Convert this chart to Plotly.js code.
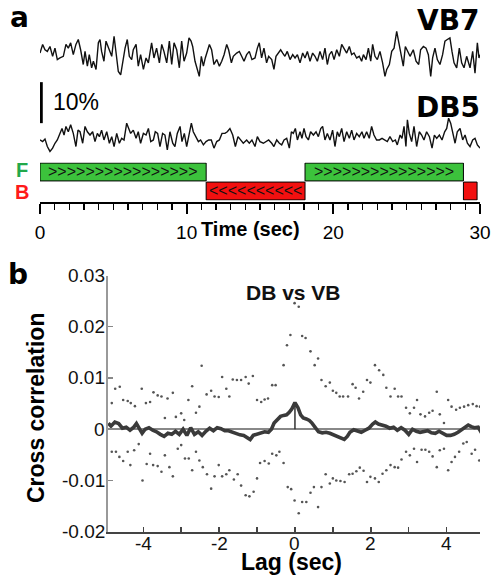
<!DOCTYPE html>
<html><head><meta charset="utf-8">
<script src="https://cdn.plot.ly/plotly-3.0.1.min.js"></script>
<style>html,body{margin:0;padding:0;background:#fff}#chart{width:494px;height:575px}</style>
</head><body><div id="chart"></div>
<script>
// ---------- Panel a: calcium traces (dF/F, %) ----------
const vbTime=[0.00,0.18,0.34,0.50,0.68,0.86,1.02,1.18,1.36,1.59,1.77,1.93,2.09,2.27,2.45,2.61,2.77,2.95,3.07,3.23,3.36,3.52,3.64,3.82,3.98,4.09,4.20,4.36,4.50,4.66,4.89,5.05,5.23,5.34,5.50,5.64,5.80,5.95,6.09,6.25,6.36,6.55,6.70,6.86,7.05,7.23,7.39,7.61,7.77,7.95,8.14,8.30,8.45,8.64,8.82,8.98,9.14,9.32,9.50,9.66,9.82,10.00,10.16,10.30,10.41,10.57,10.73,10.86,11.00,11.14,11.27,11.41,11.55,11.70,11.86,12.05,12.23,12.39,12.55,12.73,12.86,13.05,13.18,13.41,13.59,13.75,13.91,14.09,14.27,14.45,14.66,14.82,14.95,15.11,15.27,15.45,15.59,15.80,15.95,16.09,16.25,16.41,16.55,16.70,16.86,17.05,17.23,17.39,17.55,17.73,17.91,18.07,18.23,18.41,18.59,18.75,18.91,19.09,19.27,19.43,19.59,19.73,19.89,20.05,20.23,20.41,20.57,20.73,20.91,21.09,21.25,21.41,21.59,21.77,21.93,22.05,22.23,22.39,22.55,22.68,22.84,23.00,23.18,23.36,23.52,23.64,23.82,23.98,24.14,24.32,24.45,24.59,24.77,24.91,25.05,25.23,25.45,25.64,25.82,25.95,26.14,26.32,26.48,26.64,26.77,26.93,27.09,27.27,27.45,27.61,27.77,27.95,28.09,28.23,28.41,28.59,28.75,28.91,29.09,29.32,29.50,29.66,29.82,29.93,30.00];
const vbValue=[1.2,3.3,2.0,1.6,2.8,0.4,2.4,-0.4,0.0,0.4,3.3,2.4,3.7,0.8,3.3,4.5,2.0,-1.6,1.6,-2.0,0.8,-2.4,-0.8,-2.8,3.7,4.5,1.6,-0.8,4.1,2.4,0.4,5.3,0.0,-3.3,-4.1,-0.8,2.4,4.5,0.4,-0.4,2.0,3.3,-2.0,0.8,-2.8,0.0,-1.2,3.7,0.0,2.4,-1.2,3.3,1.6,-1.2,4.1,-1.6,3.7,2.0,-2.4,4.1,-0.8,1.2,4.9,4.1,2.8,-0.8,-2.8,-4.5,0.4,-2.0,0.0,1.6,3.3,2.0,-1.6,-0.4,-2.0,-0.8,0.8,3.3,2.0,-1.2,0.4,1.2,1.6,0.4,-0.8,0.8,1.6,-0.4,0.0,2.4,3.7,0.0,2.4,-1.2,0.4,-0.4,-2.8,0.4,1.2,2.0,1.2,0.4,1.6,-0.4,0.8,0.0,0.8,-1.2,1.2,0.0,1.6,-0.8,1.2,0.4,-0.8,1.6,-0.4,2.4,-1.6,0.8,1.6,-0.4,2.0,0.4,3.3,2.4,1.2,2.8,0.8,1.2,0.0,0.4,-0.8,0.8,-0.4,2.4,-0.8,3.3,0.4,-0.4,1.6,-1.2,-4.5,-2.8,-1.6,1.6,2.4,6.5,4.1,1.2,-2.0,2.8,1.6,0.4,2.0,-0.8,-1.6,2.0,2.8,2.4,0.8,-4.5,0.0,2.4,-0.4,-1.6,0.8,4.1,4.5,4.9,1.6,-1.2,-2.4,2.4,-1.2,-2.4,0.4,-2.4,1.6,-3.7,3.7,0.0,0.8];
const dbTime=[0.00,0.18,0.34,0.50,0.68,0.86,1.02,1.18,1.36,1.50,1.64,1.77,1.93,2.09,2.27,2.45,2.59,2.73,2.91,3.07,3.23,3.41,3.59,3.75,3.91,4.05,4.20,4.36,4.55,4.73,4.89,5.05,5.23,5.41,5.57,5.73,5.91,6.05,6.18,6.36,6.55,6.70,6.86,7.05,7.23,7.39,7.55,7.73,7.86,8.02,8.18,8.36,8.52,8.68,8.86,9.05,9.20,9.36,9.55,9.68,9.84,10.00,10.16,10.32,10.45,10.64,10.80,10.95,11.14,11.32,11.50,11.68,11.86,12.05,12.23,12.41,12.61,12.77,12.95,13.14,13.32,13.50,13.68,13.86,14.09,14.27,14.45,14.66,14.82,15.00,15.23,15.41,15.59,15.80,15.95,16.14,16.32,16.48,16.64,16.82,17.00,17.14,17.27,17.41,17.55,17.73,17.86,18.00,18.14,18.30,18.45,18.64,18.82,18.98,19.14,19.27,19.43,19.59,19.77,19.95,20.11,20.27,20.41,20.57,20.73,20.91,21.09,21.25,21.41,21.59,21.77,21.95,22.09,22.27,22.45,22.61,22.77,22.95,23.14,23.32,23.50,23.68,23.86,24.05,24.23,24.36,24.55,24.68,24.82,24.95,25.05,25.18,25.34,25.50,25.68,25.86,26.02,26.18,26.36,26.55,26.73,26.89,27.05,27.23,27.41,27.59,27.73,27.86,28.00,28.14,28.30,28.45,28.64,28.82,28.98,29.14,29.32,29.50,29.66,29.82,30.00];
const dbValue=[0.0,-0.4,0.2,-1.6,-2.8,-2.0,-0.8,0.0,1.6,2.8,1.2,3.3,2.0,3.7,1.6,-1.6,2.4,2.0,-0.8,3.3,2.0,1.2,2.0,-0.4,1.6,0.8,2.4,0.0,2.0,-0.8,0.8,-1.6,1.6,-0.8,0.4,0.0,4.1,2.8,1.6,2.4,0.4,2.0,-0.8,1.6,1.2,2.8,-0.4,0.0,2.0,1.6,-1.6,1.6,1.2,-2.4,2.0,-0.8,-1.6,1.6,3.3,-0.4,1.6,-1.6,1.6,4.1,2.0,0.8,-0.4,0.0,-1.2,-0.4,0.0,0.0,-2.0,-0.4,0.0,1.6,1.6,2.0,2.8,1.2,-1.6,0.8,0.0,-0.8,0.0,-0.8,0.0,-1.6,0.8,-0.4,-0.8,-0.4,0.0,-0.8,-1.6,0.0,-0.8,-1.2,0.0,0.4,-2.0,2.0,1.6,2.8,0.0,2.0,0.4,2.8,0.8,0.0,2.0,1.2,2.0,0.8,2.8,3.3,0.0,1.6,0.0,2.4,-1.6,2.0,0.8,2.8,-0.4,2.0,0.4,2.4,0.0,1.6,0.8,2.0,0.4,2.0,0.4,3.3,1.2,0.0,0.0,0.4,0.0,-0.4,0.8,-0.4,0.0,-1.2,1.2,0.4,3.3,-1.6,4.9,1.6,-0.4,3.3,-1.6,2.0,1.2,0.0,2.0,0.8,-2.0,1.2,0.4,1.2,0.0,2.0,2.8,5.3,4.1,1.6,-0.8,2.0,2.8,0.0,1.2,-0.8,-1.6,0.0,0.4,-1.2,-2.0];
const scaleBarPct=10;

// ---------- Panel a: crawling direction epochs ----------
const phaseDir=['F','B','F','B'];
const phaseStart=[0,11.33,18.07,28.87];
const phaseEnd=[11.33,18.07,28.87,29.8];
const phaseArrows=[16,10,15,0];
const timeTicks=[0,10,20,30];

// ---------- Panel b: cross correlation ----------
const ccLag=[-4.92,-4.85,-4.75,-4.65,-4.55,-4.45,-4.35,-4.25,-4.18,-4.10,-4.03,-3.95,-3.85,-3.75,-3.65,-3.55,-3.45,-3.35,-3.25,-3.15,-3.05,-2.95,-2.85,-2.75,-2.65,-2.55,-2.45,-2.35,-2.25,-2.15,-2.05,-1.95,-1.85,-1.75,-1.65,-1.55,-1.45,-1.35,-1.25,-1.18,-1.10,-1.00,-0.90,-0.80,-0.70,-0.62,-0.55,-0.45,-0.38,-0.30,-0.22,-0.15,-0.08,0.00,0.08,0.15,0.22,0.30,0.38,0.45,0.55,0.62,0.72,0.82,0.92,1.02,1.12,1.22,1.30,1.38,1.45,1.55,1.65,1.75,1.85,1.95,2.05,2.12,2.20,2.30,2.40,2.50,2.60,2.70,2.80,2.90,3.00,3.10,3.20,3.30,3.40,3.50,3.60,3.70,3.80,3.90,4.00,4.10,4.20,4.30,4.40,4.48,4.57,4.65,4.73,4.83,4.92];
const ccVal=[0.0012,0.0006,0.0014,0.0011,0.0002,0.0004,-0.0002,0.0004,0.0011,0.0002,-0.0008,0.0000,0.0003,-0.0002,-0.0005,-0.0010,-0.0014,-0.0008,-0.0010,-0.0004,-0.0010,0.0000,-0.0012,0.0003,-0.0010,-0.0005,-0.0012,-0.0004,0.0002,-0.0003,0.0003,0.0001,-0.0003,-0.0003,-0.0006,-0.0008,-0.0011,-0.0012,-0.0018,-0.0020,-0.0012,-0.0010,-0.0008,-0.0005,-0.0006,0.0000,0.0012,0.0020,0.0025,0.0027,0.0028,0.0033,0.0040,0.0052,0.0042,0.0028,0.0022,0.0020,0.0017,0.0012,0.0002,-0.0005,-0.0007,-0.0006,-0.0008,-0.0011,-0.0014,-0.0018,-0.0020,-0.0014,-0.0006,-0.0001,-0.0003,-0.0006,-0.0002,0.0002,0.0010,0.0014,0.0010,0.0008,0.0006,0.0002,0.0004,-0.0002,0.0003,-0.0002,-0.0010,0.0000,-0.0004,-0.0006,-0.0005,-0.0003,-0.0007,-0.0008,-0.0004,-0.0008,-0.0012,-0.0012,-0.0010,-0.0006,-0.0001,0.0004,0.0008,0.0005,0.0003,0.0004,-0.0007];
const upLag=[-4.83,-4.74,-4.62,-4.53,-4.41,-4.33,-4.22,-4.04,-3.93,-3.82,-3.73,-3.62,-3.52,-3.43,-3.36,-3.22,-3.14,-3.00,-2.92,-2.81,-2.71,-2.61,-2.52,-2.46,-2.33,-2.21,-2.12,-2.01,-1.92,-1.81,-1.73,-1.64,-1.53,-1.42,-1.30,-1.22,-1.11,-1.00,-0.89,-0.80,-0.71,-0.60,-0.51,-0.30,-0.21,-0.12,-0.01,0.10,0.19,0.28,0.41,0.52,0.61,0.70,0.81,0.92,1.00,1.09,1.18,1.27,1.40,1.52,1.60,1.69,1.80,1.90,1.99,2.11,2.22,2.33,2.41,2.52,2.63,2.72,2.81,2.93,3.03,3.14,3.22,3.31,3.43,3.54,3.63,3.74,3.82,3.93,4.04,4.13,4.25,4.35,4.46,4.57,4.69,4.79,4.88];
const upVal=[0.0051,0.0079,0.0083,0.0057,0.0055,0.0051,0.0045,0.0079,0.0051,0.0053,0.0072,0.0066,0.0064,0.0022,0.0060,0.0071,0.0024,0.0031,0.0018,0.0057,0.0084,0.0032,0.0044,0.0124,0.0068,0.0075,0.0064,0.0063,0.0102,0.0079,0.0064,0.0097,0.0096,0.0096,0.0102,0.0089,0.0104,0.0057,0.0053,0.0058,0.0060,0.0086,0.0086,0.0125,0.0164,0.0184,0.0246,0.0239,0.0182,0.0178,0.0152,0.0125,0.0138,0.0096,0.0084,0.0091,0.0075,0.0071,0.0064,0.0064,0.0064,0.0088,0.0081,0.0060,0.0073,0.0096,0.0091,0.0125,0.0115,0.0106,0.0081,0.0064,0.0079,0.0064,0.0064,0.0042,0.0031,0.0042,0.0057,0.0029,0.0025,0.0032,0.0036,0.0073,0.0029,0.0012,0.0057,0.0044,0.0038,0.0042,0.0044,0.0047,0.0049,0.0045,0.0044];
const loLag=[-4.83,-4.72,-4.63,-4.53,-4.41,-4.34,-4.24,-4.12,-4.02,-3.91,-3.82,-3.74,-3.62,-3.52,-3.43,-3.31,-3.22,-3.09,-3.00,-2.90,-2.80,-2.71,-2.61,-2.52,-2.43,-2.32,-2.21,-2.12,-2.01,-1.92,-1.81,-1.73,-1.61,-1.51,-1.42,-1.30,-1.20,-1.09,-1.00,-0.92,-0.80,-0.69,-0.60,-0.49,-0.41,-0.30,-0.19,-0.10,-0.01,0.10,0.19,0.30,0.41,0.50,0.61,0.70,0.81,0.92,1.00,1.09,1.20,1.31,1.43,1.52,1.62,1.71,1.81,1.90,1.99,2.11,2.21,2.31,2.41,2.52,2.63,2.72,2.81,2.93,3.03,3.14,3.22,3.34,3.44,3.54,3.63,3.74,3.82,3.93,4.04,4.13,4.22,4.33,4.44,4.53,4.66,4.75,4.86];
const loVal=[-0.0044,-0.0044,-0.0054,-0.0062,-0.0044,-0.0070,-0.0041,-0.0029,-0.0100,-0.0068,-0.0048,-0.0070,-0.0072,-0.0083,-0.0051,-0.0074,-0.0092,-0.0038,-0.0031,-0.0057,-0.0057,-0.0080,-0.0044,-0.0061,-0.0074,-0.0088,-0.0116,-0.0092,-0.0070,-0.0092,-0.0088,-0.0080,-0.0098,-0.0088,-0.0110,-0.0129,-0.0131,-0.0122,-0.0096,-0.0066,-0.0062,-0.0067,-0.0048,-0.0051,-0.0044,-0.0066,-0.0113,-0.0117,-0.0139,-0.0164,-0.0142,-0.0142,-0.0124,-0.0113,-0.0152,-0.0113,-0.0088,-0.0106,-0.0096,-0.0100,-0.0101,-0.0103,-0.0088,-0.0087,-0.0082,-0.0075,-0.0081,-0.0103,-0.0093,-0.0096,-0.0103,-0.0087,-0.0080,-0.0070,-0.0074,-0.0075,-0.0059,-0.0044,-0.0051,-0.0038,-0.0064,-0.0040,-0.0040,-0.0044,-0.0053,-0.0074,-0.0041,-0.0038,-0.0080,-0.0064,-0.0054,-0.0044,-0.0028,-0.0025,-0.0048,-0.0040,-0.0061];
const ccTicks=[0.03,0.02,0.01,0,-0.01,-0.02];
const ccTickText=['0.03','0.02','0.01','0','-0.01','-0.02'];
const lagTicks=[-4,-2,0,2,4];
const lagTickText=['-4','-2','0','2','4'];

// ---------- figure ----------
const W=494,H=575;
const px=x=>x/W, py=y=>1-y/H;
const FONT='Liberation Sans, Arial, sans-serif';
const HEAVY='DejaVu Sans, Liberation Sans, sans-serif';
const VB_OFF=24.4, DB_OFF=4.4;

const traces=[
 {x:vbTime,y:vbValue.map(v=>v+VB_OFF),xaxis:'x',yaxis:'y',mode:'lines',line:{color:'#111',width:1.4},hoverinfo:'skip'},
 {x:dbTime,y:dbValue.map(v=>v+DB_OFF),xaxis:'x',yaxis:'y',mode:'lines',line:{color:'#111',width:1.4},hoverinfo:'skip'},
 {type:'bar',orientation:'h',xaxis:'x',yaxis:'y2',
  y:phaseDir.map(d=>d==='F'?1:0),
  x:phaseStart.map((s,i)=>phaseEnd[i]-s),base:phaseStart,width:0.94,
  marker:{color:phaseDir.map(d=>d==='F'?'#3cc23c':'#f21010'),line:{color:'#000',width:1}},
  textposition:'none',hoverinfo:'skip'},
 {x:upLag,y:upVal,xaxis:'x2',yaxis:'y3',mode:'markers',marker:{color:'#555',size:2.6},hoverinfo:'skip'},
 {x:loLag,y:loVal,xaxis:'x2',yaxis:'y3',mode:'markers',marker:{color:'#555',size:2.6},hoverinfo:'skip'},
 {x:[0,0],y:[0,ccVal[ccLag.indexOf(0)]],xaxis:'x2',yaxis:'y3',mode:'lines',line:{color:'#333',width:1.5},hoverinfo:'skip'},
 {x:ccLag,y:ccVal,xaxis:'x2',yaxis:'y3',mode:'lines',line:{color:'#3a3a3a',width:3.6},hoverinfo:'skip'}
];

const ann=(text,x,y,o={})=>Object.assign({text:text,x:px(x),y:py(y),xref:'paper',yref:'paper',showarrow:false,
  xanchor:'center',yanchor:'middle',font:{family:FONT,size:20,color:'#000'}},o);

const annotations=[
 ann('<b>a</b>',19,17,{font:{family:HEAVY,size:28,color:'#000'}}),
 ann('<b>VB7</b>',482,20,{xanchor:'right',font:{family:HEAVY,size:28,color:'#000'}}),
 ann('<b>DB5</b>',482,107,{xanchor:'right',font:{family:HEAVY,size:28,color:'#000'}}),
 ann('10%',51,102,{xanchor:'left',font:{family:FONT,size:23,color:'#000'}}),
 ann('<b>F</b>',22,170,{font:{family:FONT,size:20,color:'#22a84a'}}),
 ann('<b>B</b>',22,192,{font:{family:FONT,size:20,color:'#ff1a1a'}}),
 ann('<b>Time (sec)</b>',251,229,{font:{family:FONT,size:20,color:'#000'}}),
 ann('<b>b</b>',18,274,{font:{family:HEAVY,size:28,color:'#000'}}),
 ann('<b>DB vs VB</b>',293,292,{font:{family:FONT,size:21,color:'#111'}}),
 ann('<b>Cross correlation</b>',36,408,{textangle:-90,font:{family:FONT,size:23,color:'#000'}}),
 ann('<b>Lag (sec)</b>',291,562,{font:{family:FONT,size:23,color:'#000'}})
];
phaseDir.forEach((d,i)=>{
  if(!phaseArrows[i])return;
  annotations.push({text:(d==='F'?'>':'<').repeat(phaseArrows[i]),x:(phaseStart[i]+phaseEnd[i])/2,y:d==='F'?1:0,
    xref:'x',yref:'y2',showarrow:false,xanchor:'center',yanchor:'middle',font:{family:FONT,size:16,color:'#111'}});
});
// panel b tick labels, placed tight to the axes as in the original
lagTicks.forEach((v,i)=>annotations.push({text:lagTickText[i],x:v,y:py(543),xref:'x2',yref:'paper',showarrow:false,
  xanchor:'center',yanchor:'middle',font:{family:FONT,size:19,color:'#111'}}));
ccTicks.forEach((v,i)=>annotations.push({text:ccTickText[i],x:px(107),y:v,xref:'paper',yref:'y3',showarrow:false,
  xanchor:'right',yanchor:'middle',font:{family:FONT,size:19,color:'#111'}}));

const layout={
 width:W,height:H,margin:{l:0,r:0,t:0,b:0},paper_bgcolor:'#fff',plot_bgcolor:'rgba(0,0,0,0)',
 showlegend:false,font:{family:FONT,color:'#000'},bargap:0,
 xaxis:{domain:[px(40),px(480)],range:[0,30],anchor:'free',position:py(203),showline:true,linecolor:'#000',linewidth:2,
   ticks:'outside',ticklen:10,tickwidth:2,tickcolor:'#000',tickvals:timeTicks,ticktext:timeTicks.map(String),
   tickfont:{family:FONT,size:19,color:'#000'},ticklabelstandoff:2,showgrid:false,zeroline:false,automargin:false,fixedrange:true,
   minor:{dtick:1,tick0:0,ticks:'outside',ticklen:6,tickwidth:1.5,tickcolor:'#000',showgrid:false}},
 yaxis:{domain:[py(158),py(25)],range:[0,32.44],visible:false,anchor:'x',fixedrange:true},
 yaxis2:{domain:[py(200.5),py(162.5)],range:[-0.5,1.5],visible:false,anchor:'x',fixedrange:true},
 xaxis2:{domain:[px(108),px(480)],range:[-4.93,4.88],anchor:'y3',showline:true,linecolor:'#444',linewidth:2,
   ticks:'inside',ticklen:5,tickwidth:1.5,tickcolor:'#444',tick0:0,dtick:2,showticklabels:false,
   showgrid:false,zeroline:false,automargin:false,fixedrange:true,
   minor:{dtick:1,tick0:0,ticks:'inside',ticklen:5,tickwidth:1.5,tickcolor:'#444',showgrid:false}},
 yaxis3:{domain:[py(531.7),py(275.5)],range:[-0.02,0.03],anchor:'x2',showline:true,linecolor:'#999',linewidth:2,
   ticks:'inside',ticklen:5,tickwidth:1.5,tickcolor:'#888',tickvals:ccTicks,showticklabels:false,
   showgrid:false,zeroline:true,zerolinecolor:'#888',zerolinewidth:1.5,automargin:false,fixedrange:true},
 shapes:[{type:'line',xref:'x',yref:'y',x0:0.07,x1:0.07,y0:8.5,y1:8.5+scaleBarPct,line:{color:'#000',width:3.5}}],
 annotations:annotations
};
Plotly.newPlot('chart',traces,layout,{staticPlot:true,displayModeBar:false});
</script></body></html>
